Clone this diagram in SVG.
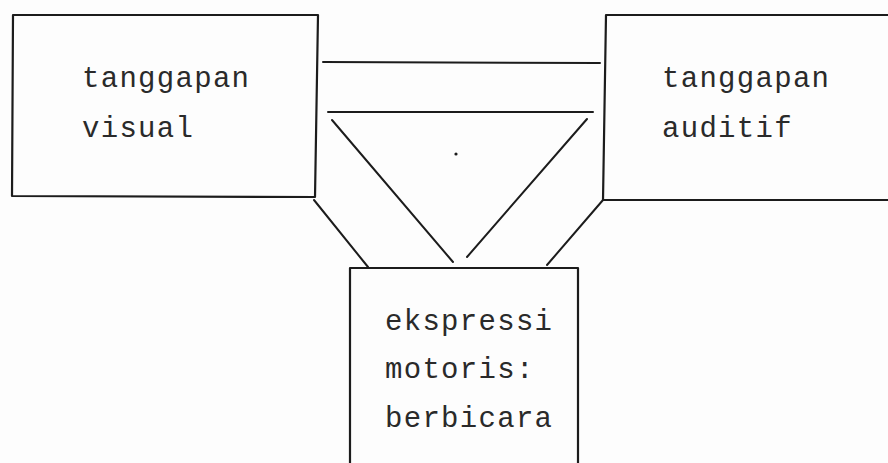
<svg xmlns="http://www.w3.org/2000/svg" width="888" height="463" viewBox="0 0 888 463">
<style>
.box{fill:none;stroke:#1c1c1c;stroke-width:2.2;stroke-linejoin:round}
.ln{fill:none;stroke:#1c1c1c;stroke-width:2;stroke-linecap:round}
.t{font-family:"Liberation Mono","Courier New",monospace;font-size:29px;letter-spacing:1.3px;fill:#2a2a2a}
</style>
<rect x="0" y="0" width="888" height="463" fill="#fdfdfd"/>
<g id="visual">
<path class="box" d="M13 15 L318 15 L315 197 L12 196 Z"/>
<text class="t" x="82" y="87">tanggapan</text>
<text class="t" x="82" y="137">visual</text>
</g>
<g id="auditif">
<path class="box" d="M890 15 L606 15 L603 200 L890 200"/>
<text class="t" x="662" y="87">tanggapan</text>
<text class="t" x="662" y="137">auditif</text>
</g>
<g id="ekspressi">
<path class="box" d="M350 470 L350 268 L578 268 L578 470"/>
<text class="t" x="385" y="330">ekspressi</text>
<text class="t" x="385" y="378">motoris:</text>
<text class="t" x="385" y="427">berbicara</text>
</g>
<g id="connectors">
<line class="ln" x1="323" y1="62" x2="600" y2="63"/>
<line class="ln" x1="328" y1="112" x2="593" y2="112"/>
<line class="ln" x1="332" y1="120" x2="453" y2="262"/>
<line class="ln" x1="587" y1="119" x2="467" y2="257"/>
<line class="ln" x1="314" y1="200" x2="368" y2="267"/>
<line class="ln" x1="603" y1="200" x2="547" y2="265"/>
<circle cx="456" cy="154" r="1.6" fill="#1c1c1c"/>
</g>
</svg>
